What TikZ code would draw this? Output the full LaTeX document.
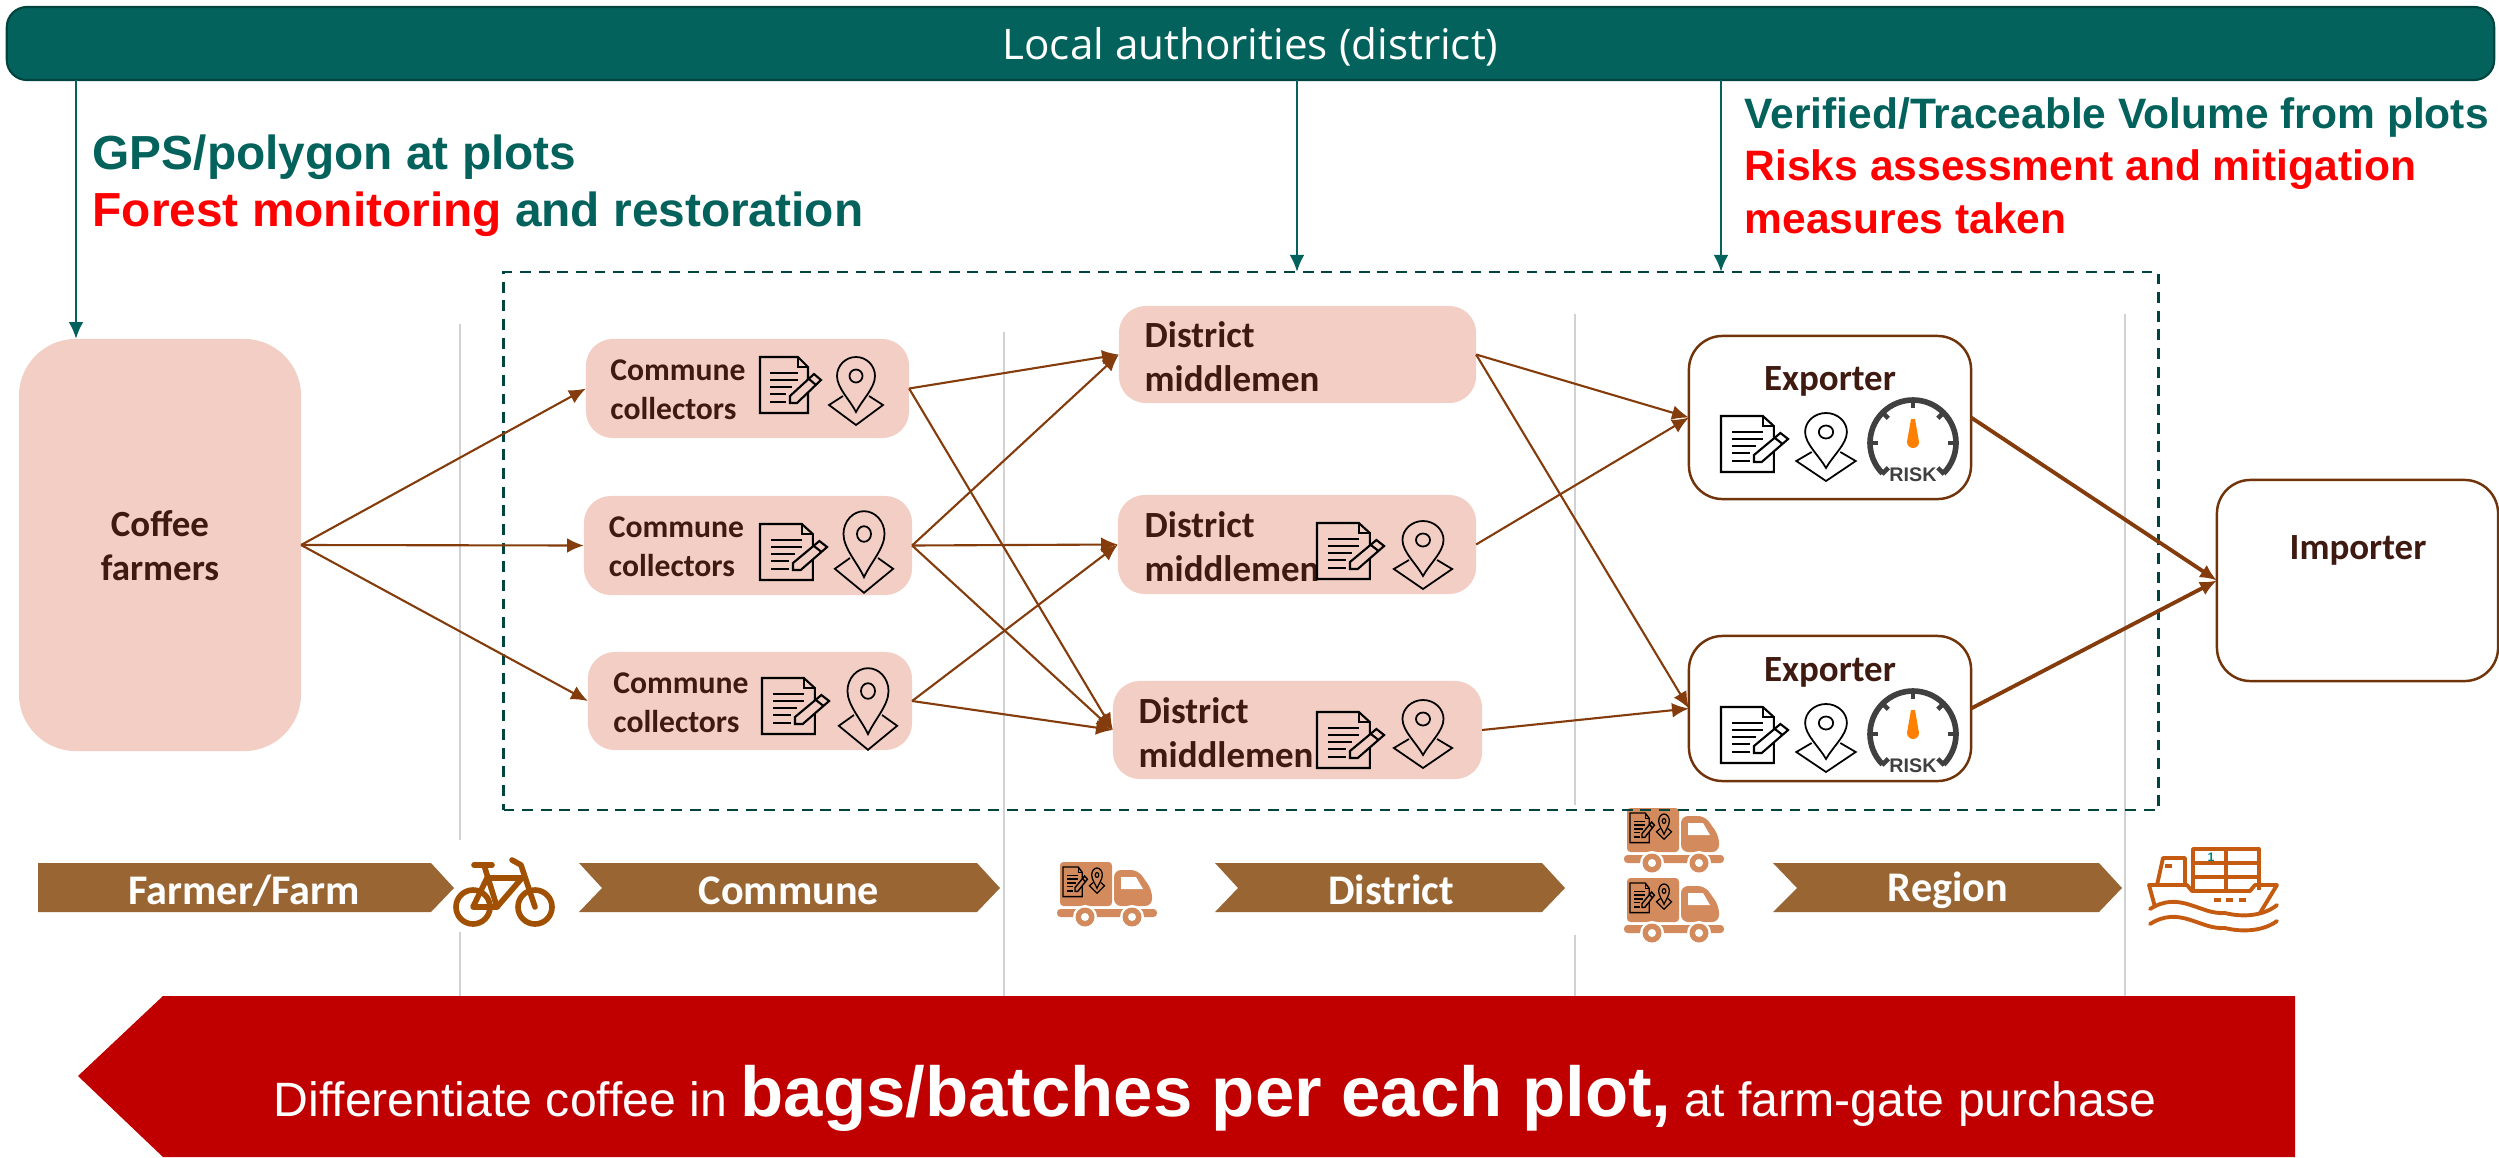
\documentclass[tikz,border=0pt]{standalone}
\usepackage{fontspec}
\usetikzlibrary{arrows.meta}
\setmainfont{Carlito}
\newfontfamily\arialfont{Liberation Sans}
\newfontfamily\barfont{Open Sans}
\definecolor{tealbar}{HTML}{03625C}
\definecolor{tealdark}{HTML}{00443F}
\definecolor{boxpink}{HTML}{F2CEC4}
\definecolor{boxtext}{HTML}{3F1A10}
\definecolor{flowbrown}{HTML}{843C0C}
\definecolor{chevbrown}{HTML}{996633}
\definecolor{truckbrown}{HTML}{D38B5D}
\definecolor{bikebrown}{HTML}{A05000}
\definecolor{shipbrown}{HTML}{C55A11}
\definecolor{riskgray}{HTML}{404040}
\definecolor{plotred}{HTML}{C00000}
\tikzset{
    >={Latex[length=4.8pt,width=4.2pt]},
    flow/.style={->,flowbrown,line width=.6pt},
    flowthick/.style={->,flowbrown,line width=1.1pt},
    authline/.style={->,tealbar,line width=.6pt},
    stage/.style={gray!35,line width=.4pt},
    pinkbox/.style={fill=boxpink,rectangle,rounded corners=1.6ex,outer sep=0pt,inner sep=0pt},
    whitebox/.style={draw=flowbrown!85!black,fill=white,rectangle,rounded corners=2ex,line width=.7pt,outer sep=0pt,inner sep=0pt},
    boxlabel/.style={text=boxtext,font=\fontsize{9}{11}\selectfont\bfseries,align=left,inner sep=0pt},
    biglabel/.style={text=boxtext,font=\fontsize{10.5}{12.5}\selectfont\bfseries,align=center,inner sep=0pt},
    headline/.style={font=\fontsize{13.6}{16}\selectfont\arialfont\bfseries,anchor=base west,inner sep=0pt},
    sideline/.style={font=\fontsize{12.1}{15}\selectfont\arialfont\bfseries,anchor=base west,inner sep=0pt},
    chevlabel/.style={text=white,font=\fontsize{12}{14}\selectfont\bfseries,inner sep=0pt},
    iconpen/.style={line width=.6pt},
    docicon/.pic={
        \draw (38,0) -- (0,0) -- (0,56) -- (48,56) -- (48,10) -- cycle;
        \draw (38,0) -- (38,10) -- (48,10);
        \foreach \ya/\xb in {16/38,23/38,30/32,37/26,45/26}
            \draw (10,\ya) -- (\xb,\ya);
        \draw[pic actions] (30,39) -- (30,46) -- (37,46) -- (61,23) -- (54,17) -- cycle;
        \draw (49,22) -- (56,28);
    },
    pinicon/.pic={
        \draw (0,36) .. controls (-6,24) and (-19,12) .. (-19,0) arc (180:360:19) .. controls (19,12) and (6,24) .. (0,36) -- cycle;
        \draw (0,0) circle (6.5);
        \draw (-13,20) -- (-27,29) -- (0,49) -- (27,29) -- (13,20);
    },
    riskicon/.pic={
        \draw[riskgray,line width=1.6pt] (135:43) arc (135:405:43);
        \foreach \a in {135,180,225,270,315,360,405}
            \draw[riskgray,line width=1.3pt] (\a:44) -- (\a:35);
        \fill[orange] (-2,-24) -- (2,-24) -- (6,-1) arc (0:180:6) -- cycle;
        \node[text=riskgray,font=\fontsize{5.6}{6}\selectfont\arialfont\bfseries,inner sep=0pt] (word) at (0,32) {RISK};
    },
    truckicon/.pic={
        \fill[truckbrown,rounded corners=1pt] (0,0) rectangle (52,44);
        \fill[truckbrown,rounded corners=2pt] (54,44) -- (54,8) -- (78,8) -- (92,28) -- (92,44) -- cycle;
        \fill[white] (61,15) -- (76,15) -- (83,27) -- (61,27) -- cycle;
        \fill[truckbrown,rounded corners=1pt] (-3,47) rectangle (97,55);
        \foreach \xa in {25,72} {
            \fill[white] (\xa,55) circle (12);
            \fill[truckbrown] (\xa,55) circle (9.5);
            \fill[white] (\xa,55) circle (4);
        }
        \pic[xscale=.4,yscale=.53,line width=.4pt,fill=truckbrown] at (3,5) {docicon};
        \pic[xscale=.28,yscale=.37,line width=.35pt] at (37,13) {pinicon};
    },
}
\begin{document}
\begin{tikzpicture}[x=0.01cm,y=-0.01cm]
        \useasboundingbox (0,0) rectangle (2499,1157);
        %% Stage lines
        \draw[stage] (460,324) -- (460,840) (460,932) -- (460,996);
        \draw[stage] (1004,332) -- (1004,996);
        \draw[stage] (1575,314) -- (1575,805) (1575,935) -- (1575,996);
        \draw[stage] (2125,314) -- (2125,996);
        %% Transport icons
        \pic at (1060,862) {truckicon};
        \pic at (1627,808) {truckicon};
        \pic at (1627,878) {truckicon};
        %% Dashed frame
        \node[draw=tealdark,line width=.7pt,dash pattern=on 3.1pt off 2.2pt,rectangle,minimum width=16.54cm,minimum height=5.38cm,outer sep=0pt,inner sep=0pt] (chain) at (1331,541) {};
        %% Authority bar
        \node[draw=tealdark,fill=tealbar,rectangle,rounded corners=1.2ex,line width=.6pt,minimum width=24.86cm,minimum height=.73cm,outer sep=0pt,inner sep=0pt,text=white,text height=11.5pt,text depth=2.4pt,font=\fontsize{12}{14}\selectfont\barfont] (local) at (1250.5,43.5) {Local authorities (district)};
        %% Actors
        \node[pinkbox,rounded corners=3.4ex,minimum width=2.82cm,minimum height=4.12cm] (farmers) at (160,545) {};
        \node[biglabel] (farmerslabel) at (160,546) {Coffee\\farmers};
        \node[pinkbox,minimum width=3.23cm,minimum height=.99cm] (comm1) at (747.5,388.5) {};
        \node[pinkbox,minimum width=3.28cm,minimum height=.99cm] (comm2) at (748,545.5) {};
        \node[pinkbox,minimum width=3.24cm,minimum height=.98cm] (comm3) at (750,701) {};
        \node[boxlabel] (comm1label) at (678,390) {Commune\\collectors};
        \node[boxlabel] (comm2label) at (676.5,547) {Commune\\collectors};
        \node[boxlabel] (comm3label) at (681,703) {Commune\\collectors};
        \node[pinkbox,minimum width=3.57cm,minimum height=.97cm] (dist1) at (1297.5,354.5) {};
        \node[pinkbox,minimum width=3.58cm,minimum height=.99cm] (dist2) at (1297,544.5) {};
        \node[pinkbox,minimum width=3.69cm,minimum height=.98cm] (dist3) at (1297.5,730) {};
        \node[biglabel,align=left,anchor=west] (dist1label) at (1144,357) {District\\middlemen};
        \node[biglabel,align=left,anchor=west] (dist2label) at (1144,547) {District\\middlemen};
        \node[biglabel,align=left,anchor=west] (dist3label) at (1138,733) {District\\middlemen};
        \node[whitebox,minimum width=2.82cm,minimum height=1.63cm] (exp1) at (1830,417.5) {};
        \node[whitebox,minimum width=2.82cm,minimum height=1.45cm] (exp2) at (1830,708.5) {};
        \node[biglabel] (exp1label) at (1830,381) {Exporter};
        \node[biglabel] (exp2label) at (1830,672) {Exporter};
        \node[whitebox,minimum width=2.81cm,minimum height=2.01cm] (importer) at (2357.5,580.5) {};
        \node[biglabel] (importerlabel) at (2358,550) {Importer};
        %% Icons in the boxes
        \foreach \xa/\ya/\dx/\xb/\yb/\sx/\sy in {760/357/1/856/376/1/1,760/524/1.1/864/534/1.08/1.2,762/678/1.1/868/691/1.08/1.2,1317/523/1.1/1423/540/1.08/1,1317/712/1.1/1423/719/1.08/1} {
            \pic[iconpen,fill=boxpink,xscale=\dx] at (\xa,\ya) {docicon};
            \pic[line width=.5pt,xscale=\sx,yscale=\sy] at (\xb,\yb) {pinicon};
        }
        \foreach \dy in {0,291} {
            \pic[iconpen,fill=white,xscale=1.1] at (1721,416+\dy) {docicon};
            \pic[line width=.5pt,xscale=1.1] at (1826,432+\dy) {pinicon};
            \pic at (1913,443+\dy) {riskicon};
        }
        %% Flows
        \foreach \src/\dst in {farmers/comm1,farmers/comm2,farmers/comm3,
                comm1/dist1,comm1/dist3,comm2/dist1,comm2/dist2,comm2/dist3,comm3/dist2,comm3/dist3,
                dist1/exp1,dist1/exp2,dist2/exp1,dist3/exp2}
            \draw[flow] (\src.east) -- (\dst.west);
        \draw[flowthick] (exp1.east) -- (importer.west);
        \draw[flowthick] (exp2.east) -- (importer.west);
        %% From the authorities
        \coordinate (gpsdrop) at (76,0);
        \coordinate (midrop) at (1297,0);
        \coordinate (volumedrop) at (1721,0);
        \draw[authline] (local.south -| gpsdrop) -- (farmers.north -| gpsdrop);
        \draw[authline] (local.south -| midrop) -- (chain.north -| midrop);
        \draw[authline] (local.south -| volumedrop) -- (chain.north -| volumedrop);
        %% Requirements
        \node[headline,text=tealbar] (gps) at (92,169) {GPS/polygon at plots};
        \node[headline,text=red] (forest) at (92,226) {Forest monitoring \textcolor{tealbar}{and restoration}};
        \node[sideline,text=tealbar] (volume) at (1744,128) {Verified/Traceable Volume from plots};
        \node[sideline,text=red] (risks) at (1744,180) {Risks assessment and mitigation};
        \node[sideline,text=red] (measures) at (1744,233) {measures taken};
        %% Chevrons
        \fill[chevbrown] (38,863) -- (431,863) -- (454,888) -- (431,912) -- (38,912) -- cycle;
        \fill[chevbrown] (579,863) -- (977,863) -- (1000,888) -- (977,912) -- (579,912) -- (602,888) -- cycle;
        \fill[chevbrown] (1215,863) -- (1542,863) -- (1565,888) -- (1542,912) -- (1215,912) -- (1238,888) -- cycle;
        \fill[chevbrown] (1773,863) -- (2099,863) -- (2122,888) -- (2099,912) -- (1773,912) -- (1797,888) -- cycle;
        \node[chevlabel] (farmlabel) at (244,891) {Farmer/Farm};
        \node[chevlabel] (communelabel) at (789,891) {Commune};
        \node[chevlabel] (districtlabel) at (1391,890) {District};
        \node[chevlabel] (regionlabel) at (1948,890) {Region};
        %% Bicycle
        \begin{scope}[bikebrown,line width=1.6pt,line cap=round,line join=round]
            \draw (473,907) ellipse (17 and 17);
            \draw (535,907) ellipse (17 and 17);
            \draw (473,907) -- (497,907) -- (522,878) -- (487,878) -- cycle;
            \draw (484,865) -- (497,907);
            \draw (474,865) -- (492,865);
            \draw (512,860) -- (521,865) -- (535,907);
        \end{scope}
        %% Ship
        \begin{scope}[shipbrown,line width=1.1pt,line join=round]
            \draw (2193,890) -- (2193,849) -- (2259,849) -- (2259,890);
            \draw (2226,849) -- (2226,890) (2193,863) -- (2259,863) (2193,877) -- (2259,877);
            \draw (2157,885) -- (2163,858) -- (2185,858) -- (2185,885);
            \draw (2155,907) -- (2149,885) -- (2187,885) -- (2192,891) -- (2250,891) -- (2255,885) -- (2277,885) -- (2260,913);
            \draw[line width=1.2pt] (2165,866) -- (2172,866);
            \draw[line width=1.3pt,dash pattern=on 2pt off 1.5pt] (2214,900) -- (2250,900);
            \draw[line cap=round] (2150,909) .. controls (2180,890) and (2200,915) .. (2225,913) .. controls (2245,918) and (2265,915) .. (2277,905);
            \draw[line cap=round] (2150,924) .. controls (2180,905) and (2200,930) .. (2225,928) .. controls (2245,933) and (2265,930) .. (2277,921);
            \node[text=teal,font=\fontsize{3.5}{4}\selectfont\arialfont\bfseries,inner sep=0pt] (shipmark) at (2211,857) {1};
        \end{scope}
        %% Plot arrow
        \fill[plotred] (78,1076) -- (163,996) -- (2295,996) -- (2295,1157) -- (163,1157) -- cycle;
        \node[text=white,font=\arialfont,inner sep=0pt,anchor=base] (plotnote) at (1215,1116) {\fontsize{13.7}{16}\selectfont Differentiate coffee in {\fontsize{20.1}{24}\selectfont\bfseries bags/batches per each plot,} at farm-gate purchase};
    \end{tikzpicture}
\end{document}
